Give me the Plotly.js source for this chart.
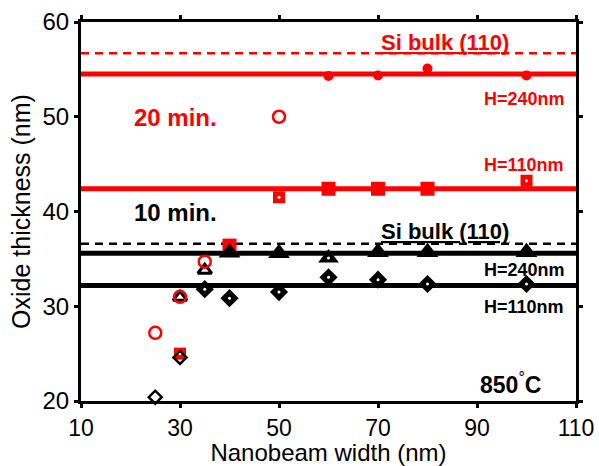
<!DOCTYPE html>
<html>
<head>
<meta charset="utf-8">
<script src="https://cdn.plot.ly/plotly-3.0.1.min.js"></script>
<style>html,body{margin:0;padding:0;background:#fff;}#chart{width:599px;height:466px;}</style>
</head>
<body>
<div id="chart"></div>
<script>
// ---- data ----
var xRange = [10, 110];
var redBulkLevel = 56.7;
var red240Level = 54.5;
var red110Level = 42.4;
var blackBulkLevel = 36.6;
var black240Level = 35.6;
var black110Level = 32.2;

var red240X = [60, 70, 80, 100];
var red240Y = [54.3, 54.35, 55.1, 54.35];
var redNarrowX = [25, 30, 35, 50];
var redNarrowY = [27.2, 31.0, 34.7, 50.0];
var red110FilledX = [40, 60, 70, 80];
var red110FilledY = [36.4, 42.4, 42.4, 42.4];
var red110DotX = [30, 50, 100];
var red110DotY = [25.0, 41.5, 43.25];

var blk240FilledX = [40, 50, 70, 80, 100];
var blk240FilledY = [35.65, 35.6, 35.7, 35.7, 35.7];
var blk240OpenX = [30, 35];
var blk240OpenY = [30.95, 33.8];
var blk240DotX = [60];
var blk240DotY = [35.1];
var blk110DotX = [35, 40, 50, 60, 70, 80, 100];
var blk110DotY = [31.8, 30.85, 31.5, 33.05, 32.8, 32.35, 32.35];
var blk110OpenX = [25, 30];
var blk110OpenY = [20.4, 24.6];

var xTicks = [10, 30, 50, 70, 90, 110];
var yTicks = [20, 30, 40, 50, 60];

function hline(level, color, width, dash) {
  return {x: xRange, y: [level, level], mode: 'lines', line: {color: color, width: width, dash: dash || 'solid'}, hoverinfo: 'skip', cliponaxis: false};
}
function pts(x, y, symbol, color, size, lw) {
  return {x: x, y: y, mode: 'markers', cliponaxis: false,
    marker: {symbol: symbol, color: color, size: size, line: {color: color, width: lw || 0}}};
}
var RED = '#ff0000', BLK = '#000000', WHT = '#ffffff';
var traces = [
  hline(redBulkLevel, RED, 2.5, '8px,6px'),
  hline(red240Level, RED, 5),
  hline(red110Level, RED, 5),
  hline(blackBulkLevel, BLK, 2.5, '8px,6px'),
  hline(black240Level, BLK, 5),
  hline(black110Level, BLK, 5),
  pts(red110FilledX, red110FilledY, 'square', RED, 14),
  pts(red110DotX, red110DotY, 'square', RED, 12),
  pts(red110DotX, red110DotY, 'circle', WHT, 3),
  pts(red240X, red240Y, 'circle', RED, 10),
  pts(blk240FilledX, blk240FilledY, 'triangle-up', BLK, 19),
  pts(blk240OpenX, blk240OpenY, 'triangle-up-open', BLK, 12, 3),
  pts(blk240DotX, blk240DotY, 'triangle-up', BLK, 18),
  pts(blk240DotX, blk240DotY, 'circle', WHT, 3),
  pts(blk110DotX, blk110DotY, 'diamond', BLK, 14),
  pts(blk110DotX, blk110DotY, 'circle', WHT, 3),
  pts(blk110OpenX, blk110OpenY, 'diamond-open', BLK, 10, 2.5),
  pts(redNarrowX, redNarrowY, 'circle-open', RED, 12, 2.5)
];

var FONT = 'Liberation Sans, Arial, Helvetica, sans-serif';
function ann(x, y, text, color, size) {
  return {x: x, y: y, xref: 'x', yref: 'y', text: text, showarrow: false,
    font: {family: FONT, size: size, color: color}, xanchor: 'center', yanchor: 'middle'};
}
var layout = {
  width: 599, height: 466,
  margin: {l: 81, r: 23, t: 22, b: 65},
  paper_bgcolor: '#fff', plot_bgcolor: '#fff',
  showlegend: false,
  font: {family: FONT, color: '#000', size: 22},
  xaxis: {range: xRange, tickvals: xTicks, showgrid: false, zeroline: false,
    showline: true, linecolor: '#000', linewidth: 3, mirror: 'ticks',
    ticks: 'outside', ticklen: 4, tickwidth: 3, tickcolor: '#000',
    tickfont: {size: 23}, title: {text: 'Nanobeam width (nm)', font: {size: 24}, standoff: 2}},
  yaxis: {range: [20, 60], tickvals: yTicks, showgrid: false, zeroline: false,
    showline: true, linecolor: '#000', linewidth: 3, mirror: 'ticks',
    ticks: 'outside', ticklen: 4, tickwidth: 3, tickcolor: '#000',
    tickfont: {size: 24}, title: {text: 'Oxide thickness (nm)', font: {size: 25}, standoff: 5}},
  annotations: [
    ann(83.5, 57.85, '<b><u>Si bulk (110)</u></b>', RED, 22),
    ann(99.5, 51.9, '<b>H=240nm</b>', RED, 18),
    ann(99.5, 44.95, '<b>H=110nm</b>', RED, 18),
    ann(29.0, 49.9, '<b>20 min.</b>', RED, 24),
    ann(29.0, 39.85, '<b>10 min.</b>', BLK, 24),
    ann(83.5, 37.9, '<b><u>Si bulk (110)</u></b>', BLK, 22),
    ann(99.5, 33.8, '<b>H=240nm</b>', BLK, 18),
    ann(99.5, 29.9, '<b>H=110nm</b>', BLK, 18),
    ann(96.7, 21.9, '<b>850</b><sup>°</sup><b>C</b>', BLK, 23)
  ]
};
Plotly.newPlot('chart', traces, layout, {displayModeBar: false, staticPlot: true});
</script>
</body>
</html>
